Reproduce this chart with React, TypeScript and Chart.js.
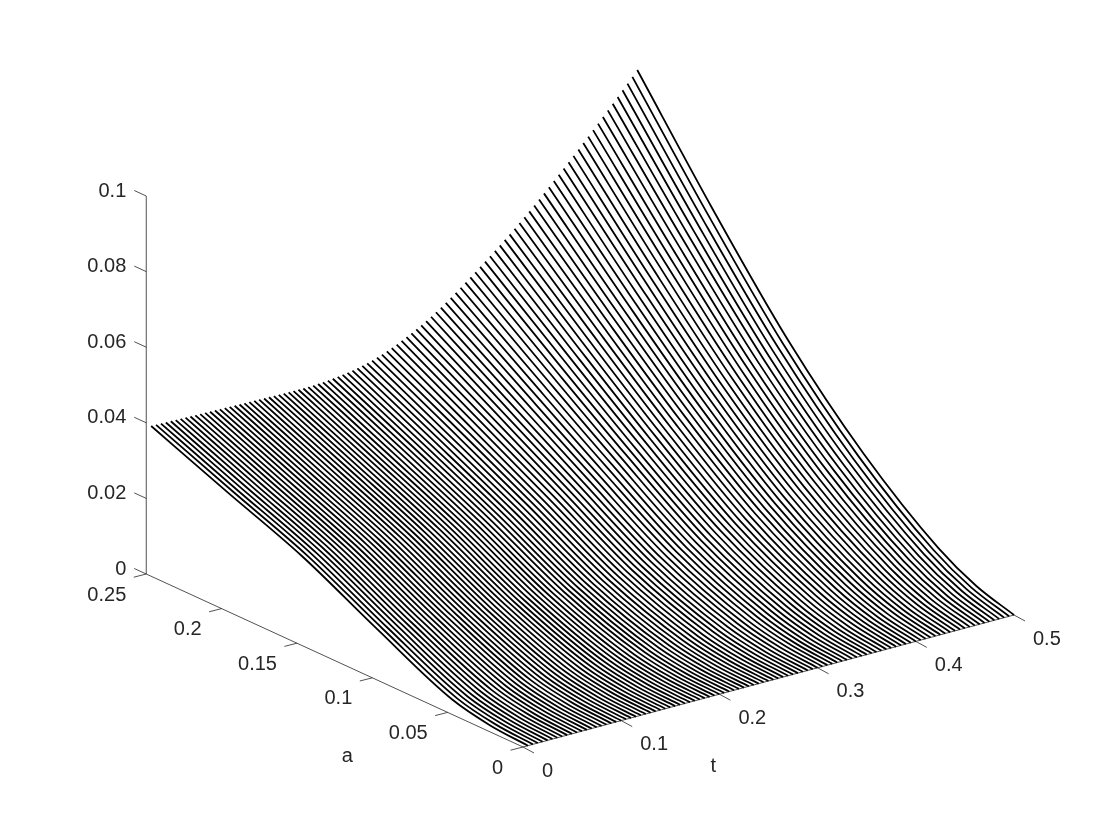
import { useEffect, useRef } from "react";
import { Chart, registerables } from "chart.js";

Chart.register(...registerables);

// Surface heights, in units of 1e-5, one entry per t line (t = 0.005 ... 0.5).
const z250 = [3880,3876,3873,3869,3866,3863,3859,3856,3852,3849,3846,3842,3839,3836,3833,3829,3826,3823,3820,3817,3814,3811,3808,3805,3802,3799,3797,3795,3793,3792,3791,3791,3793,3798,3805,3814,3825,3838,3853,3870,3890,3912,3938,3968,4002,4040,4082,4128,4178,4232,4290,4351,4415,4482,4552,4624,4700,4780,4864,4952,5044,5140,5238,5338,5439,5541,5644,5749,5855,5962,6070,6179,6289,6401,6515,6631,6749,6869,6991,7115,7241,7368,7497,7627,7758,7890,8023,8157,8292,8428,8565,8703,8842,8983,9124,9266,9409,9552,9696,9840];
const z200 = [3066,3060,3054,3048,3042,3036,3030,3024,3018,3012,3006,3000,2994,2988,2983,2976,2970,2965,2959,2953,2948,2942,2936,2930,2925,2919,2914,2909,2904,2900,2895,2892,2890,2890,2892,2895,2899,2905,2913,2921,2933,2945,2961,2979,3000,3025,3052,3082,3115,3151,3190,3231,3275,3320,3368,3417,3469,3524,3582,3643,3707,3773,3842,3911,3982,4053,4125,4198,4272,4347,4422,4499,4576,4654,4734,4815,4898,4983,5068,5156,5244,5334,5425,5516,5609,5702,5796,5890,5985,6081,6178,6276,6374,6474,6573,6674,6775,6876,6978,7080];
const z150 = [2272,2262,2253,2243,2233,2223,2213,2204,2194,2184,2175,2165,2155,2146,2136,2126,2117,2107,2098,2088,2079,2069,2060,2050,2041,2031,2022,2013,2004,1996,1987,1979,1972,1967,1962,1959,1957,1955,1955,1956,1958,1961,1967,1974,1983,1995,2008,2024,2041,2061,2083,2106,2131,2157,2185,2214,2244,2277,2312,2349,2389,2430,2472,2515,2559,2603,2647,2693,2739,2786,2833,2881,2929,2979,3029,3080,3133,3186,3241,3296,3352,3409,3467,3526,3585,3644,3704,3765,3826,3888,3950,4012,4075,4140,4204,4268,4333,4399,4464,4530];
const z100 = [1251,1241,1232,1222,1212,1202,1192,1183,1173,1163,1154,1144,1134,1124,1115,1105,1095,1085,1076,1066,1056,1047,1037,1027,1018,1008,999,990,980,971,962,954,946,939,933,927,922,918,915,912,910,909,910,911,914,919,925,932,940,950,962,974,987,1002,1017,1034,1051,1070,1090,1112,1135,1159,1184,1210,1236,1263,1290,1317,1345,1373,1402,1431,1460,1490,1520,1552,1584,1616,1650,1684,1718,1753,1789,1825,1862,1899,1936,1973,2011,2049,2088,2127,2166,2206,2245,2286,2326,2367,2408,2449];
const z050 = [298,295,292,289,287,284,281,278,276,273,270,267,265,262,259,256,254,251,248,245,243,240,237,235,232,229,227,224,221,219,217,214,212,211,209,208,207,207,206,206,206,207,208,210,212,214,218,221,226,230,236,241,247,254,261,268,275,284,292,302,311,322,332,343,354,365,376,387,399,411,423,435,447,459,472,484,498,511,525,539,553,567,582,596,611,626,641,657,672,687,703,719,735,751,767,783,800,816,833,849];
const z025 = [79,78,77,76,75,74,73,72,71,70,69,68,66,65,64,63,62,61,60,59,58,57,56,55,54,53,52,51,50,49,48,47,47,46,45,45,45,45,44,45,45,45,46,46,47,48,50,51,53,55,57,60,62,65,68,71,74,77,81,85,89,93,97,102,106,111,115,120,125,130,134,139,144,149,155,160,165,171,176,182,188,194,200,206,212,218,224,231,237,243,250,256,263,269,276,283,289,296,303,310];

const aSamples = [0.25, 0.2, 0.15, 0.1, 0.05, 0.025, 0];
const zColumns = [z250, z200, z150, z100, z050, z025];
const zUnit = 1e-5;
const tStep = 0.005;

const tTicks = ["0", "0.1", "0.2", "0.3", "0.4", "0.5"];
const aTicks = ["0", "0.05", "0.1", "0.15", "0.2", "0.25"];
const zTicks = ["0", "0.02", "0.04", "0.06", "0.08", "0.1"];

const AXIS_COLOR = "#262626";
const FONT = '20px "Liberation Sans", Arial, sans-serif';

// Orthographic view of the box, in page units.
const view = { x0: 523, y0: 747, xt: 982, yt: -264, xa: -1507, ya: -692, yz: -3780 };
const project = (t: number, a: number, z: number) => ({
  x: view.x0 + view.xt * t + view.xa * a,
  y: view.y0 + view.yt * t + view.ya * a + view.yz * z,
});

const surfaceSets = z250.map((_, i) => {
  const t = (i + 1) * tStep;
  return {
    data: aSamples.map((a, k) => project(t, a, k < zColumns.length ? zColumns[k][i] * zUnit : 0)),
    borderColor: "#000000",
    borderWidth: 1.8,
    cubicInterpolationMode: "monotone" as const,
  };
});

const segment = (data: { x: number; y: number }[]) => ({
  data,
  borderColor: AXIS_COLOR,
  borderWidth: 0.8,
});

const aMax = Number(aTicks[aTicks.length - 1]);
const tMax = Number(tTicks[tTicks.length - 1]);
const zMax = Number(zTicks[zTicks.length - 1]);

const axisSets = [
  segment([project(0, 0, 0), project(tMax, 0, 0)]),
  segment([project(0, 0, 0), project(0, aMax, 0)]),
  segment([project(0, aMax, 0), project(0, aMax, zMax)]),
  ...tTicks.map((l) => {
    const p = project(Number(l), 0, 0);
    return segment([p, { x: p.x + 11, y: p.y + 6 }]);
  }),
  ...aTicks.map((l) => {
    const p = project(0, Number(l), 0);
    return segment([p, { x: p.x - 12.5, y: p.y + 3.2 }]);
  }),
  ...zTicks.map((l) => {
    const p = project(0, aMax, Number(l));
    return segment([p, { x: p.x - 12, y: p.y - 5.5 }]);
  }),
];

const labelsPlugin = {
  id: "boxLabels",
  afterDraw(chart: any) {
    const { ctx, scales } = chart;
    const put = (txt: string, x: number, y: number, align: CanvasTextAlign) => {
      ctx.textAlign = align;
      ctx.fillText(txt, scales.x.getPixelForValue(x), scales.y.getPixelForValue(y));
    };
    ctx.save();
    ctx.font = FONT;
    ctx.fillStyle = AXIS_COLOR;
    ctx.textBaseline = "middle";
    tTicks.forEach((l) => {
      const p = project(Number(l), 0, 0);
      put(l, p.x + 19, p.y + 24, "left");
    });
    aTicks.forEach((l) => {
      const p = project(0, Number(l), 0);
      put(l, p.x - 20, p.y + 21, "right");
    });
    zTicks.forEach((l) => {
      const p = project(0, aMax, Number(l));
      put(l, p.x - 20, p.y - 5, "right");
    });
    const tLabel = project(tMax * 0.4, 0, 0);
    put("t", tLabel.x - 6, tLabel.y + 72, "center");
    const aLabel = project(0, aMax * 0.4, 0);
    put("a", aLabel.x - 25, aLabel.y + 79, "center");
    ctx.restore();
  },
};

export default function App() {
  const ref = useRef<HTMLCanvasElement>(null);
  useEffect(() => {
    document.body.style.margin = "0";
    const chart = new Chart(ref.current!, {
      type: "scatter",
      data: { datasets: [...surfaceSets, ...axisSets] as any },
      options: {
        animation: false,
        responsive: false,
        devicePixelRatio: 1,
        layout: { padding: 0 },
        elements: { point: { radius: 0, hoverRadius: 0 } },
        datasets: { scatter: { showLine: true, clip: false } as any },
        plugins: { legend: { display: false }, tooltip: { enabled: false } },
        scales: {
          x: { type: "linear", min: 0, max: 1120, display: false },
          y: { type: "linear", min: 0, max: 840, reverse: true, display: false },
        },
      },
      plugins: [labelsPlugin],
    });
    return () => chart.destroy();
  }, []);
  return <canvas ref={ref} width={1120} height={840} style={{ display: "block", background: "#fff" }} />;
}
